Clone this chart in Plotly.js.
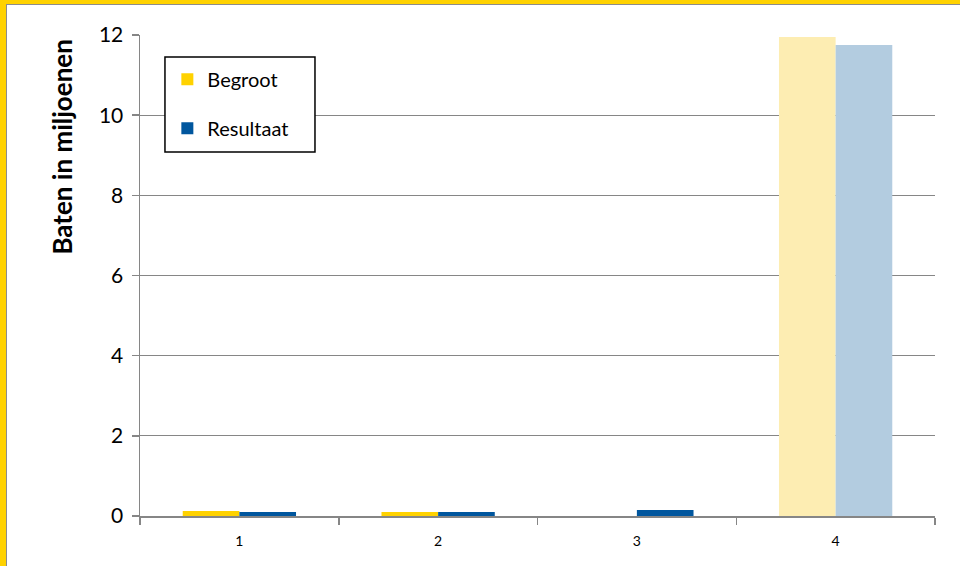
<!DOCTYPE html>
<html>
<head>
<meta charset="utf-8">
<script src="https://cdn.plot.ly/plotly-3.0.1.min.js"></script>
<style>
html,body{margin:0;padding:0;background:#fff;}
#wrap{position:relative;width:960px;height:566px;overflow:hidden;}
#chart{width:960px;height:566px;}
.fr{position:absolute;pointer-events:none;}
</style>
</head>
<body>
<div id="wrap">
<div id="chart"></div>
<div class="fr" style="left:0;top:0;width:960px;height:4px;background:#FFD200;"></div>
<div class="fr" style="left:0;top:0;width:6px;height:566px;background:#FFD200;"></div>
<div class="fr" style="left:6px;top:4px;width:954px;height:1px;background:#8c8c8c;"></div>
<div class="fr" style="left:6px;top:4px;width:1px;height:562px;background:#8c8c8c;"></div>
</div>
<script>
var categories = ['1', '2', '3', '4'];
var begroot = [0.125, 0.1, 0, 11.95];
var resultaat = [0.1, 0.1, 0.15, 11.75];
var begrootColors = ['#FFD200', '#FFD200', '#FFD200', '#FDEDB2'];
var resultaatColors = ['#00569E', '#00569E', '#00569E', '#B3CCE0'];
var seriesNames = ['Begroot', 'Resultaat'];
var yTicks = [0, 2, 4, 6, 8, 10, 12];
var yTitle = 'Baten in miljoenen';

var font = 'Lato, Calibri, "Liberation Sans", sans-serif';

var traces = [
  {type: 'bar', x: categories, y: begroot, name: seriesNames[0], legendgroup: 'a',
   marker: {color: begrootColors}, hoverinfo: 'none'},
  {type: 'bar', x: categories, y: resultaat, name: seriesNames[1], legendgroup: 'b',
   marker: {color: resultaatColors}, hoverinfo: 'none'}
];

var layout = {
  width: 960, height: 566,
  margin: {l: 140, r: 25, t: 35, b: 50, pad: 0},
  paper_bgcolor: '#ffffff', plot_bgcolor: '#ffffff',
  barmode: 'group', bargap: 0.43, bargroupgap: 0,
  font: {family: font, color: '#000'},
  showlegend: true,
  legend: {
    x: 0.0314 + 0.003, y: 0.9543 - 0.006, xanchor: 'left', yanchor: 'top',
    bgcolor: 'rgba(0,0,0,0)', borderwidth: 0,
    font: {size: 20, family: font, color: '#000'},
    traceorder: 'grouped', tracegroupgap: 20
  },
  shapes: [
    {type: 'rect', xref: 'paper', yref: 'paper', layer: 'above',
     x0: 0.0314, x1: 0.2201, y0: 0.7568, y1: 0.9543,
     fillcolor: '#ffffff', line: {color: '#000000', width: 1.5}}
  ],
  annotations: [
    {text: '<b>' + yTitle + '</b>', xref: 'paper', yref: 'paper',
     x: -0.0981, y: 0.766, xanchor: 'center', yanchor: 'middle',
     textangle: -90, showarrow: false,
     font: {size: 26, family: font, color: '#000'}}
  ],
  xaxis: {
    type: 'category', tickvals: categories, ticktext: categories,
    showline: true, linecolor: '#868686', linewidth: 1.5,
    ticks: 'outside', ticklen: 7, tickcolor: '#868686', tickwidth: 1.5,
    tickson: 'boundaries', showgrid: false, ticklabelstandoff: 12,
    tickfont: {size: 14, family: font, color: '#000'}
  },
  yaxis: {
    range: [0, 12], tickvals: yTicks, ticktext: yTicks.map(String),
    showline: true, linecolor: '#868686', linewidth: 1.5,
    ticks: 'outside', ticklen: 7, tickcolor: '#868686', tickwidth: 1.5,
    showgrid: true, gridcolor: '#868686', gridwidth: 1.3,
    zeroline: false, ticklabelstandoff: 4,
    tickfont: {size: 21, family: font, color: '#000'}
  }
};

Plotly.newPlot('chart', traces, layout, {displayModeBar: false, staticPlot: true});
</script>
</body>
</html>
